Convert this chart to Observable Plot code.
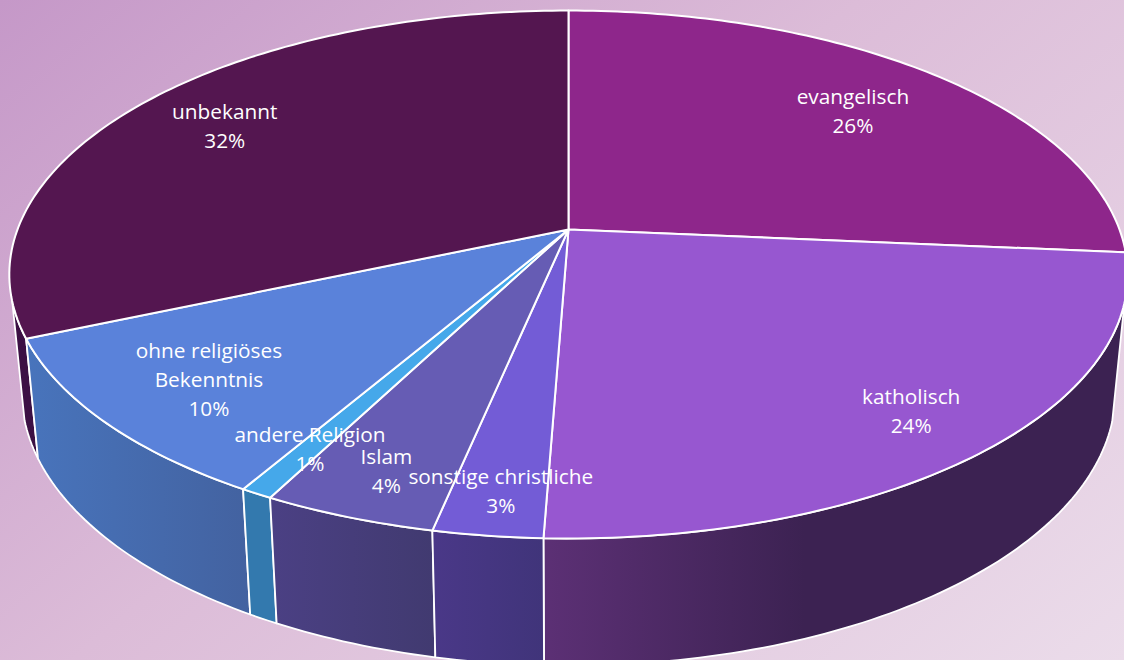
<!DOCTYPE html>
<html lang="de">
<head>
<meta charset="utf-8">
<script src="https://cdn.jsdelivr.net/npm/d3@7"></script>
<script src="https://cdn.jsdelivr.net/npm/@observablehq/plot@0.6"></script>
<style>
html,body{margin:0;padding:0;width:1124px;height:660px;overflow:hidden;
background:linear-gradient(140deg,#c598c8 0%,#dcbcd8 45%,#ebdcea 100%);}
svg{display:block}
</style>
</head>
<body>
<div id="chart"></div>
<script>
// Data
const categories = ["evangelisch","katholisch","sonstige christliche","Islam","andere Religion","ohne religiöses\nBekenntnis","unbekannt"];
const shares = [26.4,24.2,2.7,4.3,0.8,10.1,31.5];
const shownPercent = [26,24,3,4,1,10,32];

// Styling
const topColors = ["#8e268b","#9757d0","#735cd6","#665cb4","#45a8ea","#5a82da","#541650"];
const wallStart = ["#8e268b","#5c3075","#4a3888","#4b4084","#3379ae","#4874bc","#3c1044"];
const wallEnd   = ["#8e268b","#3c2252","#40347a","#413a70","#3379ae","#4362a0","#3c1044"];
const wallStop  = [1,0.45,1,1,1,1,1];
const labelRadius = [0.77,0.78,0.87,0.87,0.89,0.80,0.77];
const labelNudge = [[-3,2],[27,13],[1,0],[5,-4],[14,-13],[3,-1],[-13,-4]];

// Perspective ellipse model (unit circle on a tilted plane)
const k = 0.1705, aspect = 256.3 / 551;
const project = (turn, r = 1) => {
  const a = turn * 2 * Math.PI, u = r * Math.sin(a), v = r * Math.cos(a), w = 1 + k * v;
  return {x: u / w, y: -aspect * v / w};
};
const lower = (p) => ({x: 0.978 * p.x, y: 0.2105 + 1.036 * p.y});
const arc = (t0, t1) => {
  const n = Math.max(2, Math.ceil((t1 - t0) * 360));
  return d3.range(n + 1).map(j => project(t0 + (t1 - t0) * j / n));
};
// the part of the rim that faces the viewer
const frontStart = 0.294, frontEnd = 0.7067;

let acc = 0;
const slices = categories.map((name, i) => {
  const t0 = acc / 100; acc += shares[i]; const t1 = acc / 100;
  return {i, name, t0, t1, label: `${name}\n${shownPercent[i]}%`,
    rim: arc(t0, t1), mid: project((t0 + t1) / 2, labelRadius[i])};
});

const gradients = () => {
  const ns = "http://www.w3.org/2000/svg";
  const defs = document.createElementNS(ns,"defs");
  slices.forEach(s => {
    const g = document.createElementNS(ns,"linearGradient");
    g.setAttribute("id",`wall${s.i}`);
    [[0,wallStart[s.i]],[wallStop[s.i],wallEnd[s.i]]].forEach(([o,c]) => {
      const st = document.createElementNS(ns,"stop");
      st.setAttribute("offset",o); st.setAttribute("stop-color",c); g.appendChild(st);
    });
    defs.appendChild(g);
  });
  return defs;
};

const wallOrder = [6,1,5,4,3,2];
const walls = wallOrder.map(i => {
  const s = slices[i];
  const a = arc(Math.max(s.t0, frontStart), Math.min(s.t1, frontEnd));
  const ring = [...a, ...a.map(lower).reverse(), a[0]];
  return Plot.line(ring,{x:"x",y:"y",fill:`url(#wall${i})`,stroke:"white",strokeWidth:1.8,curve:"linear"});
});
const tops = slices.map(s => {
  const ring = [{x:0,y:0}, ...s.rim, {x:0,y:0}];
  return Plot.line(ring,{x:"x",y:"y",fill:topColors[s.i],stroke:"white",strokeWidth:2,curve:"linear"});
});
const labels = slices.map(s => Plot.text([s],{
  x:d=>d.mid.x,y:d=>d.mid.y,text:"label",
  dx:labelNudge[s.i][0],dy:labelNudge[s.i][1],
  fill:"white",fontSize:20.8,lineHeight:1.39,
  fontFamily:"'Open Sans',sans-serif",textAnchor:"middle"
}));

const plot = Plot.plot({
  width:1124,height:660,margin:0,
  style:{background:"transparent"},
  x:{domain:[-568/551,556/551],range:[0,1124],axis:null},
  y:{domain:[-229/551,431/551],range:[0,660],axis:null},
  marks:[gradients,...walls,...tops,...labels]
});
document.getElementById("chart").appendChild(plot);
</script>
</body>
</html>
